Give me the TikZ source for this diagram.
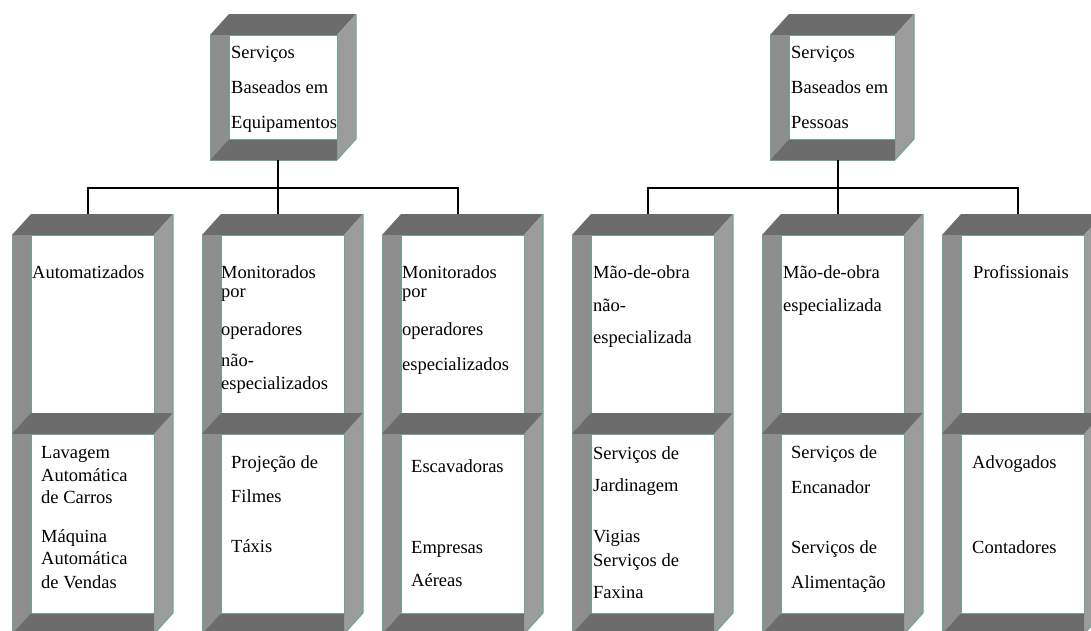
\documentclass[tikz,border=0pt]{standalone}
\usepackage{fontspec}
\setmainfont{Liberation Serif}

\definecolor{bandDark}{HTML}{6C6C6C}
\definecolor{sideLeft}{HTML}{8E8E8E}
\definecolor{sideRight}{HTML}{9C9C9C}
\definecolor{edgeTeal}{HTML}{6AA496}

\tikzset{
  wire/.style={draw=black, line width=1.3pt},
  lbl/.style={anchor=base west, inner sep=0pt, font=\fontsize{18.5}{22}\selectfont},
  frameedge/.style={draw=edgeTeal, line width=1pt, line join=miter},
}

% 3-D open frame: #1 front-left x, #2 back-top y, #3 front width, #4 front-bottom y
\newcommand\cubeframe[4]{%
  \def\fl{#1}\def\bt{#2}\def\fw{#3}\def\fb{#4}%
  \pgfmathsetmacro\ft{\bt+21}%
  \pgfmathsetmacro\fr{\fl+\fw}%
  \pgfmathsetmacro\bb{\fb-21}%
  \pgfmathsetmacro\il{\fl+19}%
  \pgfmathsetmacro\br{\fr+19}%
  % opening
  \fill[white] (\il,\ft) rectangle (\fr,\bb);
  % top band
  \fill[bandDark] (\fl,\ft) -- (\il,\bt) -- (\br,\bt) -- (\fr,\ft) -- cycle;
  % right side
  \fill[sideRight] (\fr,\ft) -- (\br,\bt) -- (\br,\bb) -- (\fr,\fb) -- cycle;
  % left side
  \fill[sideLeft] (\fl,\ft) -- (\il,\ft) -- (\il,\bb) -- (\fl,\fb) -- cycle;
  % bottom band
  \fill[bandDark] (\fl,\fb) -- (\il,\bb) -- (\fr,\bb) -- (\fr,\fb) -- cycle;
  % edges
  \draw[frameedge] (\il,\ft) rectangle (\fr,\bb);
  \draw[frameedge] (\fl,\ft) -- (\fl,\fb) -- (\fr,\fb);
  \draw[frameedge] (\fr,\fb) -- (\br,\bb) -- (\br,\bt);
}

\begin{document}
\begin{tikzpicture}[x=1pt, y=-1pt]
\useasboundingbox (0,0) rectangle (1091,630);
\fill[white] (0,0) rectangle (1091,630);
\clip (0,0) rectangle (1091,630);

% ---------- top level ----------
\cubeframe{210}{14}{127}{160}
\cubeframe{770}{14}{125}{160}

% ---------- second level: two stacked frames per column ----------
\foreach \cx in {12,202,382,572,762,942}{
  \cubeframe{\cx}{214}{142}{434}
  \cubeframe{\cx}{413}{142}{634}
}

% connector end points
\coordinate (eq-bot) at (278,160);
\coordinate (pe-bot) at (838,160);
\coordinate (c1-top) at (88,214);
\coordinate (c2-top) at (278,214);
\coordinate (c3-top) at (458,214);
\coordinate (c4-top) at (648,214);
\coordinate (c5-top) at (838,214);
\coordinate (c6-top) at (1018,214);

% ---------- connectors ----------
\draw[wire] (eq-bot) -- (c2-top);
\draw[wire] (c1-top) -- ++(0,-26) -| (c3-top);
\draw[wire] (pe-bot) -- (c5-top);
\draw[wire] (c4-top) -- ++(0,-26) -| (c6-top);

% ---------- texts: top level ----------
\node[lbl] (eq1) at (231,58) {Serviços};
\node[lbl] (eq2) at (231,93) {Baseados em};
\node[lbl] (eq3) at (231,128) {Equipamentos};
\node[lbl] (pe1) at (791,58) {Serviços};
\node[lbl] (pe2) at (791,93) {Baseados em};
\node[lbl] (pe3) at (791,128) {Pessoas};

% ---------- texts: categories ----------
\node[lbl] (a1) at (32,278) {Automatizados};

\node[lbl] (b1) at (221,278) {Monitorados};
\node[lbl] (b2) at (221,297) {por};
\node[lbl] (b3) at (221,335) {operadores};
\node[lbl] (b4) at (221,366) {não-};
\node[lbl] (b5) at (221,389) {especializados};

\node[lbl] (c1) at (402,278) {Monitorados};
\node[lbl] (c2) at (402,297) {por};
\node[lbl] (c3) at (402,335) {operadores};
\node[lbl] (c4) at (402,370) {especializados};

\node[lbl] (d1) at (593,278) {Mão-de-obra};
\node[lbl] (d2) at (593,311) {não-};
\node[lbl] (d3) at (593,343) {especializada};

\node[lbl] (e1) at (783,278) {Mão-de-obra};
\node[lbl] (e2) at (783,311) {especializada};

\node[lbl] (f1) at (973,278) {Profissionais};

% ---------- texts: examples ----------
\node[lbl] (a2) at (41,458) {Lavagem};
\node[lbl] (a3) at (41,481) {Automática};
\node[lbl] (a4) at (41,503) {de Carros};
\node[lbl] (a5) at (41,542) {Máquina};
\node[lbl] (a6) at (41,564) {Automática};
\node[lbl] (a7) at (41,588) {de Vendas};

\node[lbl] (b6) at (231,468) {Projeção de};
\node[lbl] (b7) at (231,502) {Filmes};
\node[lbl] (b8) at (231,552) {Táxis};

\node[lbl] (c5) at (411,472) {Escavadoras};
\node[lbl] (c6) at (411,553) {Empresas};
\node[lbl] (c7) at (411,586) {Aéreas};

\node[lbl] (d4) at (593,459) {Serviços de};
\node[lbl] (d5) at (593,491) {Jardinagem};
\node[lbl] (d6) at (593,542) {Vigias};
\node[lbl] (d7) at (593,566) {Serviços de};
\node[lbl] (d8) at (593,598) {Faxina};

\node[lbl] (e3) at (791,458) {Serviços de};
\node[lbl] (e4) at (791,493) {Encanador};
\node[lbl] (e5) at (791,553) {Serviços de};
\node[lbl] (e6) at (791,588) {Alimentação};

\node[lbl] (f2) at (972,468) {Advogados};
\node[lbl] (f3) at (972,553) {Contadores};
\end{tikzpicture}
\end{document}
